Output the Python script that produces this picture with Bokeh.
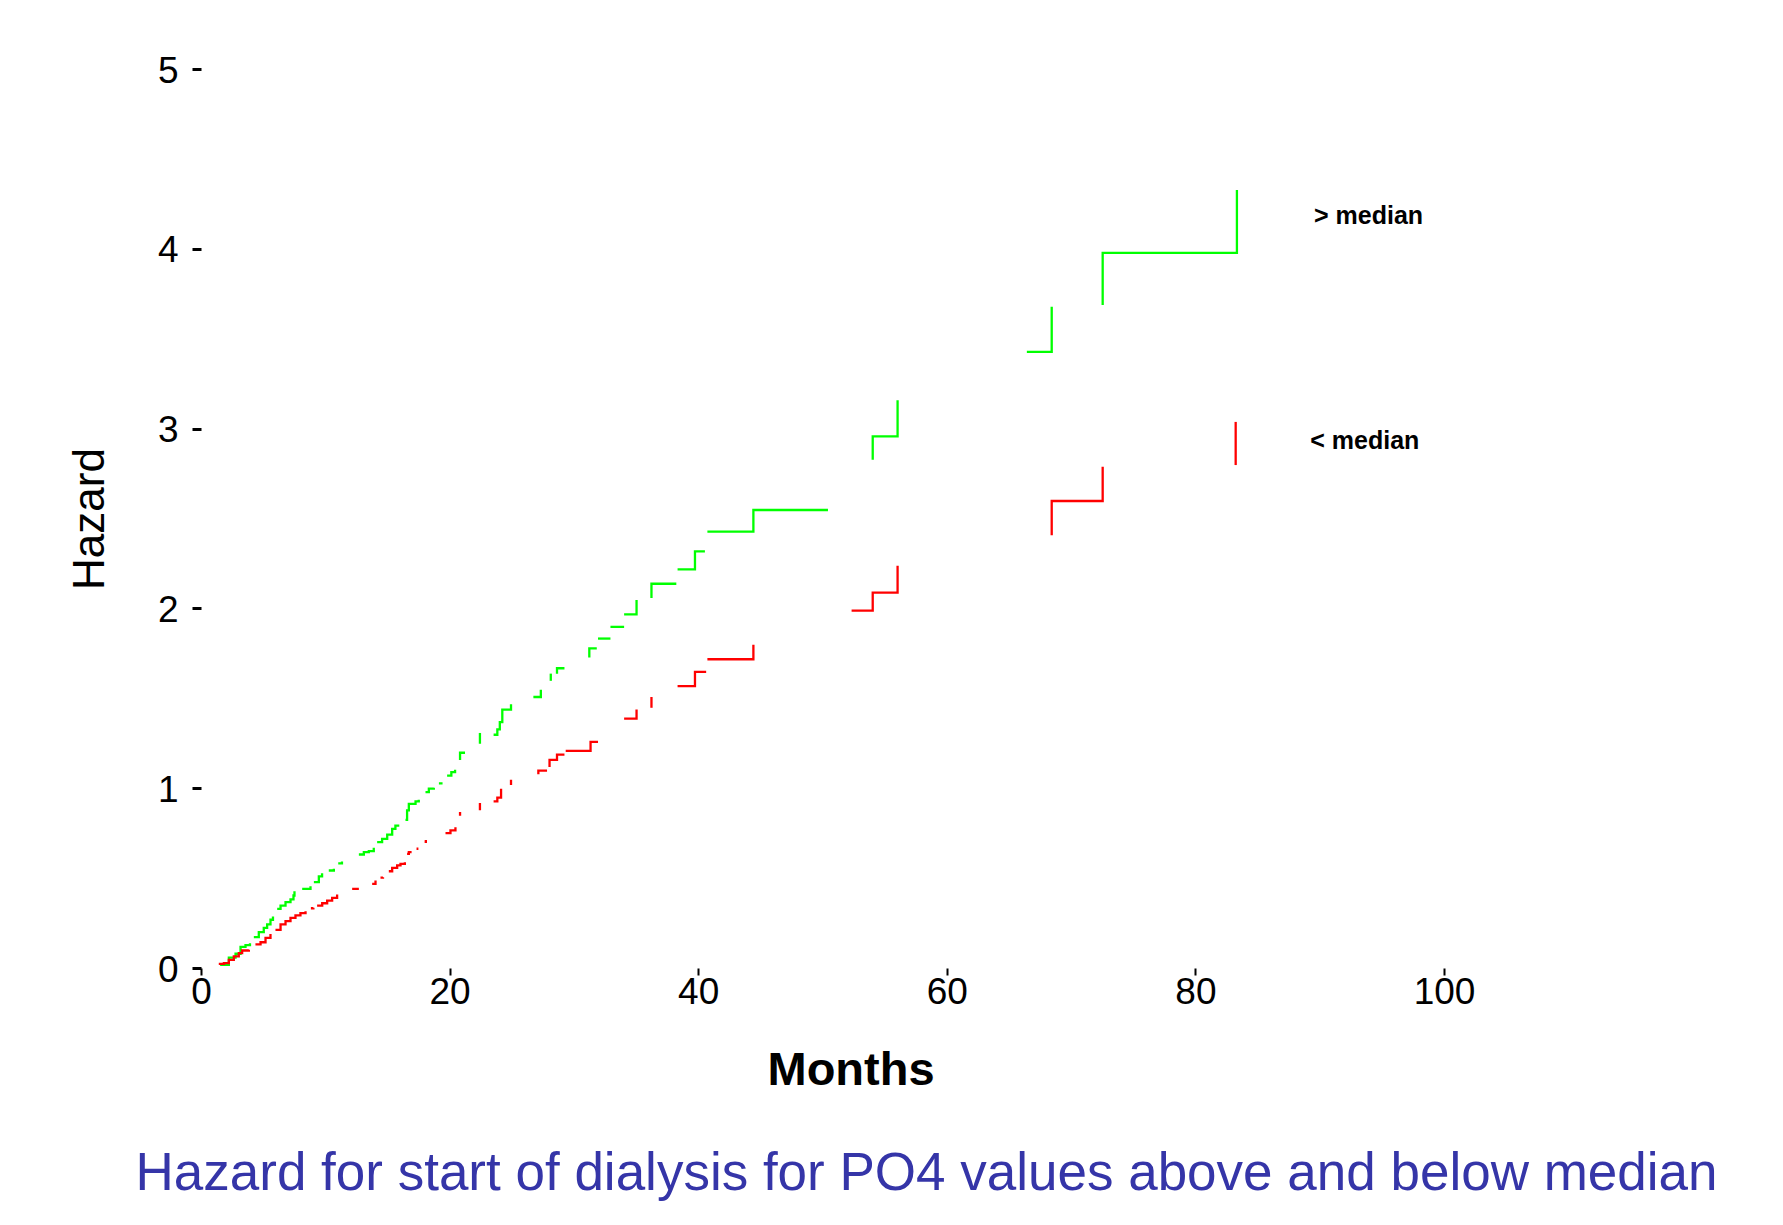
import math
from bokeh.plotting import figure
from bokeh.models import Range1d, FixedTicker, Label, Title
from bokeh.embed import file_html
from bokeh.resources import INLINE

# ---- data (months, cumulative hazard), visible pieces of each step curve ----
x_ticks = [0, 20, 40, 60, 80, 100]
y_ticks = [0, 1, 2, 3, 4, 5]

above_median = [  # "> median" (green)
    [(1.5, 0.02), (2.2, 0.06), (2.74, 0.082), (3.14, 0.12), (3.54, 0.13), (3.9, 0.14)],
    [(4.21, 0.175), (4.61, 0.202), (5.01, 0.226), (5.28, 0.245), (5.55, 0.271), (5.75, 0.289)],
    [(6.09, 0.332), (6.36, 0.35), (6.76, 0.369), (7.16, 0.384), (7.40, 0.406), (7.48, 0.43)],
    [(8.10, 0.443), (8.77, 0.458)],
    [(9.04, 0.48), (9.44, 0.512), (9.7, 0.53)],
    [(10.24, 0.545), (10.65, 0.555)],
    [(11.0, 0.585), (11.3, 0.595)],
    [(12.66, 0.634), (13.06, 0.647), (13.46, 0.653), (13.86, 0.671)],
    [(14.13, 0.703), (14.53, 0.721), (14.94, 0.745), (15.34, 0.777), (15.6, 0.795), (15.82, 0.801)],
    [(16.41, 0.827), (16.54, 0.879), (16.68, 0.916), (17.22, 0.93), (17.48, 0.938)],
    [(18.02, 0.981), (18.29, 1.0), (18.69, 1.005)],
    [(19.1, 1.03), (19.3, 1.036)],
    [(19.76, 1.073), (20.1, 1.092), (20.4, 1.105)],
    [(20.8, 1.16), (20.8, 1.20), (21.2, 1.20)],
    [(22.4, 1.25), (22.4, 1.31)],
    [(23.5, 1.30), (23.8, 1.33), (24.0, 1.37), (24.2, 1.40), (24.2, 1.44), (24.9, 1.44), (24.9, 1.47)],
    [(26.7, 1.51), (27.3, 1.51), (27.3, 1.55)],
    [(28.1, 1.60), (28.1, 1.64)],
    [(28.6, 1.64), (28.6, 1.67), (29.2, 1.67)],
    [(31.2, 1.73), (31.2, 1.78), (31.8, 1.78)],
    [(31.9, 1.835), (32.9, 1.835)],
    [(32.9, 1.90), (34.0, 1.90)],
    [(34.0, 1.97), (35.0, 1.97), (35.0, 2.05)],
    [(36.2, 2.06), (36.2, 2.14), (38.2, 2.14)],
    [(38.3, 2.22), (39.7, 2.22), (39.7, 2.32), (40.5, 2.32)],
    [(40.7, 2.43), (44.4, 2.43), (44.4, 2.55), (50.4, 2.55)],
    [(54.0, 2.83), (54.0, 2.96), (56.0, 2.96), (56.0, 3.16)],
    [(66.4, 3.43), (68.4, 3.43), (68.4, 3.68)],
    [(72.5, 3.69), (72.5, 3.98), (83.3, 3.98), (83.3, 4.33)],
]

below_median = [  # "< median" (red)
    [(1.39, 0.026), (1.80, 0.03), (2.2, 0.048), (2.6, 0.067), (3.0, 0.086), (3.27, 0.10), (3.81, 0.104)],
    [(4.34, 0.134), (4.75, 0.146), (5.15, 0.17), (5.55, 0.192)],
    [(5.95, 0.215), (6.36, 0.245), (6.76, 0.264), (7.16, 0.282), (7.56, 0.295), (7.96, 0.308), (8.37, 0.319)],
    [(8.8, 0.335), (9.0, 0.338)],
    [(9.3, 0.35), (9.71, 0.363), (10.11, 0.378), (10.51, 0.393), (10.91, 0.411)],
    [(12.12, 0.443), (12.66, 0.443)],
    [(13.73, 0.471), (14.0, 0.49)],
    [(14.4, 0.505), (14.6, 0.508)],
    [(15.07, 0.541), (15.34, 0.56), (15.74, 0.573), (16.01, 0.582), (16.36, 0.591)],
    [(16.54, 0.638), (16.68, 0.647), (16.81, 0.653)],
    [(17.3, 0.666), (17.45, 0.666)],
    [(17.95, 0.705), (18.05, 0.715)],
    [(19.63, 0.753), (20.03, 0.768), (20.43, 0.786)],
    [(20.8, 0.85), (20.8, 0.87)],
    [(22.4, 0.88), (22.4, 0.92)],
    [(23.5, 0.93), (23.8, 0.95), (24.1, 0.97), (24.1, 1.00)],
    [(24.9, 1.02), (24.9, 1.05)],
    [(27.1, 1.08), (27.1, 1.10), (27.8, 1.10)],
    [(28.0, 1.12), (28.0, 1.16), (28.6, 1.16), (28.6, 1.19), (29.2, 1.19)],
    [(29.3, 1.21), (31.3, 1.21), (31.3, 1.26), (31.9, 1.26)],
    [(34.0, 1.39), (35.0, 1.39), (35.0, 1.44)],
    [(36.2, 1.45), (36.2, 1.51)],
    [(38.3, 1.57), (39.7, 1.57), (39.7, 1.65), (40.6, 1.65)],
    [(40.7, 1.72), (44.4, 1.72), (44.4, 1.80)],
    [(52.3, 1.99), (54.0, 1.99), (54.0, 2.09), (56.0, 2.09), (56.0, 2.24)],
    [(68.4, 2.41), (68.4, 2.60), (72.5, 2.60), (72.5, 2.79)],
    [(83.2, 2.80), (83.2, 3.04)],
]

series_labels = ["> median", "< median"]
series_colors = ["#00ff00", "#ff0000"]
label_pos = [(89.5, 4.19), (89.2, 2.94)]

title_text = "Hazard for start of dialysis for PO4 values above and below median"
x_title = "Months"
y_title = "Hazard"


def step_piece(piece):
    xs, ys = [piece[0][0]], [piece[0][1]]
    for (x1, y1), (x2, y2) in zip(piece[:-1], piece[1:]):
        xs += [x2, x2]
        ys += [y1, y2]
    return xs, ys


FONT = "Liberation Sans"

p = figure(width=1783, height=1225, x_range=Range1d(0, 100), y_range=Range1d(0, 5),
           output_backend="svg", toolbar_location=None,
           min_border_left=201, min_border_top=69, min_border_right=339, min_border_bottom=257)
p.background_fill_color = "white"
p.border_fill_color = "white"
p.outline_line_color = None
p.xgrid.grid_line_color = None
p.ygrid.grid_line_color = None

for pieces, color in zip([above_median, below_median], series_colors):
    xs, ys = [], []
    for pc in pieces:
        a, b = step_piece(pc)
        xs.append(a)
        ys.append(b)
    p.multi_line(xs, ys, line_color=color, line_width=2.3, line_join="miter", line_cap="butt")

p.xaxis.ticker = FixedTicker(ticks=x_ticks)
p.yaxis.ticker = FixedTicker(ticks=y_ticks)
for ax in (p.xaxis, p.yaxis):
    ax.axis_line_color = None
    ax.minor_tick_line_color = None
    ax.major_tick_in = 0
    ax.major_tick_line_color = "black"
    ax.major_label_text_font = FONT
    ax.major_label_text_font_size = "37px"
    ax.major_label_text_color = "black"
p.xaxis.major_tick_out = 7
p.xaxis.major_tick_line_width = 2
p.xaxis.major_label_standoff = 2
p.yaxis.major_tick_out = 9
p.yaxis.major_tick_line_width = 3
p.yaxis.major_label_standoff = 14

p.yaxis.axis_label = y_title
p.yaxis.axis_label_text_font = FONT
p.yaxis.axis_label_text_font_size = "44px"
p.yaxis.axis_label_text_font_style = "normal"
p.yaxis.axis_label_text_color = "black"
p.yaxis.axis_label_standoff = 42

for text, (lx, ly) in zip(series_labels, label_pos):
    p.add_layout(Label(x=lx, y=ly, text=text, text_font=FONT, text_font_size="25px",
                       text_font_style="bold", text_baseline="middle", text_align="left",
                       text_color="black"))

p.add_layout(Title(text=x_title, align="left", offset=566, standoff=66, text_font=FONT,
                   text_font_size="47px", text_font_style="bold", text_color="black"), "below")
p.add_layout(Title(text=title_text, align="left", offset=-66, standoff=24, text_font=FONT,
                   text_font_size="53px", text_font_style="normal", text_color="#3535a8",
                   text_line_height=0.4), "below")

open("out.html", "w").write(file_html(p, INLINE))
